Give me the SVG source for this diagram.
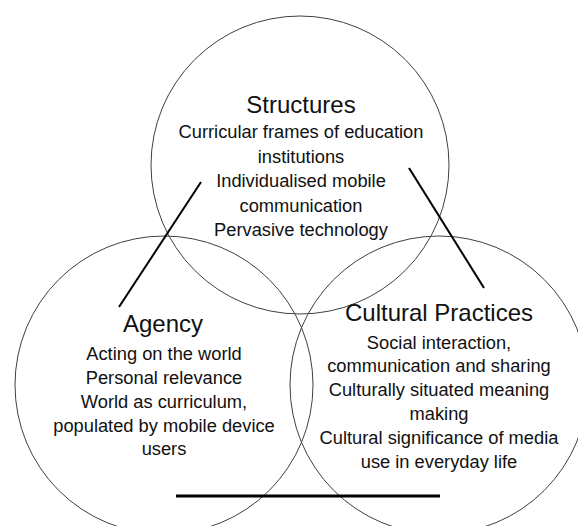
<svg xmlns="http://www.w3.org/2000/svg" width="578" height="526" viewBox="0 0 578 526">
<style>
.c{fill:none;stroke:#404040;stroke-width:1}
.ln{stroke:#000;stroke-width:2;fill:none}
.lb{stroke:#000;stroke-width:3;fill:none}
text{font-family:"Liberation Sans",Arial,sans-serif;fill:#111;text-anchor:middle}
.t{font-size:24px}
.b{font-size:18.3px}
</style>
<rect width="578" height="526" fill="#fff"/>
<g id="structures">
<circle class="c" cx="300" cy="165" r="149"/>
<text class="t" x="301" y="113">Structures</text>
<text class="b" x="301" y="138">Curricular frames of education</text>
<text class="b" x="301" y="162.5">institutions</text>
<text class="b" x="301" y="187">Individualised mobile</text>
<text class="b" x="301" y="211.5">communication</text>
<text class="b" x="301" y="236">Pervasive technology</text>
</g>
<g id="agency">
<circle class="c" cx="164" cy="385" r="149"/>
<text class="t" x="163" y="331.5">Agency</text>
<text class="b" x="164" y="360">Acting on the world</text>
<text class="b" x="164" y="384">Personal relevance</text>
<text class="b" x="164" y="407.5">World as curriculum,</text>
<text class="b" x="164" y="431.5">populated by mobile device</text>
<text class="b" x="164" y="455">users</text>
</g>
<g id="cultural-practices">
<circle class="c" cx="439" cy="385" r="149"/>
<text class="t" x="439" y="320.5">Cultural Practices</text>
<text class="b" x="439" y="348.5">Social interaction,</text>
<text class="b" x="439" y="372">communication and sharing</text>
<text class="b" x="439" y="396">Culturally situated meaning</text>
<text class="b" x="439" y="420">making</text>
<text class="b" x="439" y="443.5">Cultural significance of media</text>
<text class="b" x="439" y="467.5">use in everyday life</text>
</g>
<g id="connectors">
<line class="ln" x1="201" y1="182" x2="119" y2="307"/>
<line class="ln" x1="409" y1="168" x2="484" y2="288"/>
<line class="lb" x1="176" y1="496" x2="440" y2="496"/>
</g>
</svg>
